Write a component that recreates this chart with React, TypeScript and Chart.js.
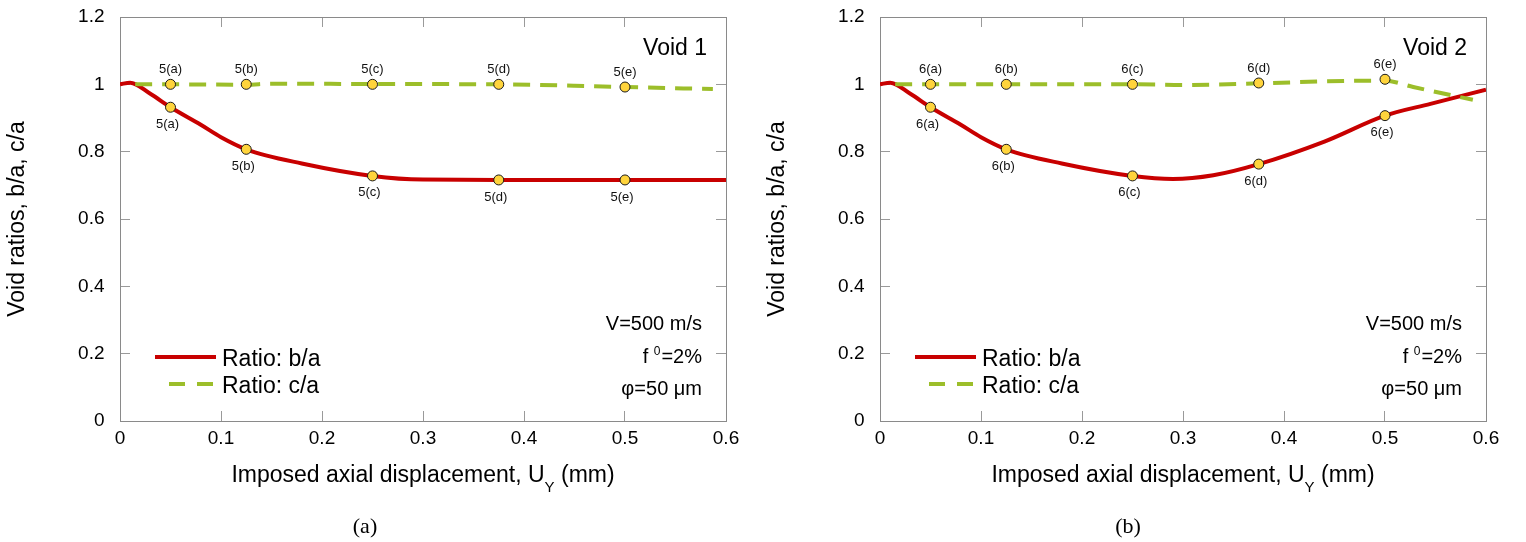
import React, { useEffect, useRef } from 'react';
import { Chart, registerables } from 'chart.js';

Chart.register(...registerables);

const FONT = '"Liberation Sans", Arial, Helvetica, sans-serif';

// ---------- shared labels ----------
const xTickLabels = ['0', '0.1', '0.2', '0.3', '0.4', '0.5', '0.6'];
const yTickLabels = ['0', '0.2', '0.4', '0.6', '0.8', '1', '1.2'];
const legendLabels = ['Ratio: b/a', 'Ratio: c/a'];
const yAxisTitle = 'Void ratios, b/a, c/a';
const xAxisTitleParts = ['Imposed axial displacement, U', 'Y', ' (mm)'];
const paramV = 'V=500 m/s';
const paramF = ['f ', '0', '=2%'];
const paramPhi = 'φ=50 μm';

// ---------- Void 1 ----------
const v1BaX = [0, 0.01, 0.03, 0.05, 0.08, 0.1, 0.125, 0.18, 0.25, 0.3, 0.375, 0.5, 0.6];
const v1BaY = [1.0, 1.005, 0.972, 0.932, 0.88, 0.843, 0.807, 0.765, 0.728, 0.717, 0.716, 0.716, 0.716];
const v1CaX = [0.015, 0.05, 0.125, 0.15, 0.25, 0.375, 0.45, 0.5, 0.587];
const v1CaY = [1.0, 1.0, 0.999, 1.002, 1.001, 1.0, 0.996, 0.992, 0.986];
const v1MarkX = [0.05, 0.125, 0.25, 0.375, 0.5];
const v1MarkBa = [0.932, 0.807, 0.728, 0.716, 0.716];
const v1MarkCa = [1.0, 1.0, 1.0, 1.0, 0.992];
const v1MarkLabels = ['5(a)', '5(b)', '5(c)', '5(d)', '5(e)'];

// ---------- Void 2 ----------
const v2BaX = [0, 0.01, 0.03, 0.05, 0.08, 0.1, 0.125, 0.18, 0.25, 0.29, 0.33, 0.375, 0.44, 0.5, 0.545, 0.6];
const v2BaY = [1.0, 1.005, 0.972, 0.932, 0.88, 0.843, 0.807, 0.765, 0.728, 0.719, 0.73, 0.763, 0.83, 0.907, 0.942, 0.984];
const v2CaX = [0.015, 0.05, 0.125, 0.25, 0.3, 0.375, 0.46, 0.5, 0.528, 0.587];
const v2CaY = [1.0, 1.0, 1.0, 1.0, 0.998, 1.003, 1.01, 1.011, 0.992, 0.954];
const v2MarkX = [0.05, 0.125, 0.25, 0.375, 0.5];
const v2MarkBa = [0.932, 0.807, 0.728, 0.763, 0.907];
const v2MarkCa = [1.0, 1.0, 1.0, 1.004, 1.015];
const v2MarkLabels = ['6(a)', '6(b)', '6(c)', '6(d)', '6(e)'];

const RED = '#C80000';
const GREEN = '#9CBE2A';
const YELLOW = '#FFD43C';

type Spec = {
  title: string;
  caption: string;
  baX: number[]; baY: number[];
  caX: number[]; caY: number[];
  markX: number[]; markBa: number[]; markCa: number[];
  markLabels: string[];
};

const void1: Spec = {
  title: 'Void 1', caption: '(a)',
  baX: v1BaX, baY: v1BaY, caX: v1CaX, caY: v1CaY,
  markX: v1MarkX, markBa: v1MarkBa, markCa: v1MarkCa, markLabels: v1MarkLabels,
};
const void2: Spec = {
  title: 'Void 2', caption: '(b)',
  baX: v2BaX, baY: v2BaY, caX: v2CaX, caY: v2CaY,
  markX: v2MarkX, markBa: v2MarkBa, markCa: v2MarkCa, markLabels: v2MarkLabels,
};

const pts = (xs: number[], ys: number[]) => xs.map((x, i) => ({ x, y: ys[i] }));

const annotPlugin = {
  id: 'annot',
  afterDatasetsDraw(chart: any, _args: any, opts: any) {
    const ctx: CanvasRenderingContext2D = chart.ctx;
    const ca = chart.chartArea;
    const spec: Spec = opts.spec;
    ctx.save();

    // marker labels
    ctx.fillStyle = '#111';
    ctx.font = `13px ${FONT}`;
    ctx.textAlign = 'center';
    ctx.textBaseline = 'middle';
    const mCa = chart.getDatasetMeta(0).data;
    const mBa = chart.getDatasetMeta(1).data;
    spec.markLabels.forEach((lab, i) => {
      if (mCa[i]) ctx.fillText(lab, mCa[i].x, mCa[i].y - 15);
      if (mBa[i]) ctx.fillText(lab, mBa[i].x - 3, mBa[i].y + 17);
    });

    // title
    ctx.fillStyle = '#000';
    ctx.font = `23px ${FONT}`;
    ctx.textAlign = 'right';
    ctx.textBaseline = 'alphabetic';
    ctx.fillText(spec.title, ca.right - 19, ca.top + 38);

    // legend
    const lx = ca.left;
    ctx.lineWidth = 4;
    ctx.lineCap = 'butt';
    ctx.strokeStyle = RED;
    ctx.setLineDash([]);
    ctx.beginPath();
    ctx.moveTo(lx + 35, ca.top + 340);
    ctx.lineTo(lx + 96, ca.top + 340);
    ctx.stroke();
    ctx.strokeStyle = GREEN;
    ctx.setLineDash([16, 12]);
    ctx.beginPath();
    ctx.moveTo(lx + 49, ca.top + 367);
    ctx.lineTo(lx + 93, ca.top + 367);
    ctx.stroke();
    ctx.setLineDash([]);
    ctx.fillStyle = '#000';
    ctx.font = `23px ${FONT}`;
    ctx.textAlign = 'left';
    ctx.fillText(legendLabels[0], lx + 102, ca.top + 349);
    ctx.fillText(legendLabels[1], lx + 102, ca.top + 376);

    // parameters
    const px = ca.right - 24;
    ctx.font = `20px ${FONT}`;
    ctx.textAlign = 'right';
    ctx.fillText(paramV, px, ca.top + 313);
    const wEq = ctx.measureText(paramF[2]).width;
    ctx.fillText(paramF[2], px, ca.top + 346);
    ctx.font = `12px ${FONT}`;
    const wSup = ctx.measureText(paramF[1]).width;
    ctx.fillText(paramF[1], px - wEq - 1, ca.top + 338);
    ctx.font = `20px ${FONT}`;
    ctx.fillText(paramF[0], px - wEq - wSup - 1, ca.top + 346);
    ctx.fillText(paramPhi, px, ca.top + 378);

    // x-axis title with subscript
    ctx.textAlign = 'left';
    ctx.font = `23px ${FONT}`;
    const w1 = ctx.measureText(xAxisTitleParts[0]).width;
    const w3 = ctx.measureText(xAxisTitleParts[2]).width;
    ctx.font = `15px ${FONT}`;
    const w2 = ctx.measureText(xAxisTitleParts[1]).width;
    const total = w1 + w2 + w3;
    const cx = (ca.left + ca.right) / 2;
    const sx = cx - total / 2;
    const by = ca.bottom + 61;
    ctx.font = `23px ${FONT}`;
    ctx.fillText(xAxisTitleParts[0], sx, by);
    ctx.font = `15px ${FONT}`;
    ctx.fillText(xAxisTitleParts[1], sx + w1, by + 10);
    ctx.font = `23px ${FONT}`;
    ctx.fillText(xAxisTitleParts[2], sx + w1 + w2, by);

    // caption
    ctx.font = `22px "Liberation Serif", "DejaVu Serif", serif`;
    ctx.textAlign = 'center';
    ctx.fillText(spec.caption, chart.width / 2 - 15, 533);

    ctx.restore();
  },
};

function makeConfig(spec: Spec, width: number): any {
  const gridOpts = { drawOnChartArea: false, drawTicks: true, tickLength: -10, color: '#9a9a9a', lineWidth: 1 };
  const borderOpts = { display: true, color: '#8a8a8a', width: 1 };
  const tickFont = { family: FONT, size: 19 };
  const zeroPad = (s: any) => { s.paddingTop = 0; s.paddingBottom = 0; s.paddingLeft = 0; s.paddingRight = 0; };
  return {
    type: 'scatter',
    data: {
      datasets: [
        {
          label: 'c/a markers', data: pts(spec.markX, spec.markCa), showLine: false,
          pointRadius: 5, pointBackgroundColor: YELLOW, pointBorderColor: '#1a1a1a', pointBorderWidth: 1, order: 0,
        },
        {
          label: 'b/a markers', data: pts(spec.markX, spec.markBa), showLine: false,
          pointRadius: 5, pointBackgroundColor: YELLOW, pointBorderColor: '#1a1a1a', pointBorderWidth: 1, order: 0,
        },
        {
          label: legendLabels[1], data: pts(spec.caX, spec.caY), showLine: true, borderColor: GREEN,
          borderWidth: 4, borderDash: [17, 10], pointRadius: 0, tension: 0.4, cubicInterpolationMode: 'monotone', order: 1,
        },
        {
          label: legendLabels[0], data: pts(spec.baX, spec.baY), showLine: true, borderColor: RED,
          borderWidth: 4, pointRadius: 0, tension: 0.4, cubicInterpolationMode: 'monotone', order: 2,
        },
      ],
    },
    options: {
      responsive: false,
      animation: false,
      layout: { padding: { left: 0, top: 17, right: width - 726, bottom: 0 } },
      plugins: {
        legend: { display: false },
        tooltip: { enabled: false },
        annot: { spec },
      },
      scales: {
        x: {
          type: 'linear', position: 'bottom', min: 0, max: 0.6,
          afterFit: (s: any) => { s.height = 121; zeroPad(s); },
          ticks: { stepSize: 0.1, color: '#000', font: tickFont, padding: 16, maxRotation: 0, autoSkip: false,
            callback: (_v: any, i: number) => xTickLabels[i] },
          grid: gridOpts, border: borderOpts,
        },
        x2: {
          type: 'linear', position: 'top', min: 0, max: 0.6,
          afterFit: (s: any) => { s.height = 0; zeroPad(s); },
          ticks: { stepSize: 0.1, display: false },
          grid: gridOpts, border: borderOpts,
        },
        y: {
          type: 'linear', position: 'left', min: 0, max: 1.2,
          afterFit: (s: any) => { s.width = 120; zeroPad(s); },
          ticks: { stepSize: 0.2, color: '#000', font: tickFont, padding: 25.5,
            callback: (_v: any, i: number) => yTickLabels[i] },
          title: { display: true, text: yAxisTitle, color: '#000', font: { family: FONT, size: 23 }, padding: { top: 4, bottom: 0 } },
          grid: gridOpts, border: borderOpts,
        },
        y2: {
          type: 'linear', position: 'right', min: 0, max: 1.2,
          afterFit: (s: any) => { s.width = 0; zeroPad(s); },
          ticks: { stepSize: 0.2, display: false },
          grid: gridOpts, border: borderOpts,
        },
      },
    },
    plugins: [annotPlugin],
  };
}

function Panel({ spec, width, left }: { spec: Spec; width: number; left: number }) {
  const ref = useRef<HTMLCanvasElement>(null);
  useEffect(() => {
    const chart = new Chart(ref.current as HTMLCanvasElement, makeConfig(spec, width));
    return () => chart.destroy();
  }, [spec, width]);
  return (
    <canvas
      ref={ref}
      width={width}
      height={542}
      style={{ position: 'absolute', left, top: 0, width, height: 542, display: 'block' }}
    />
  );
}

export default function App() {
  return (
    <div style={{ position: 'absolute', left: 0, top: 0, width: 1526, height: 542, background: '#fff', overflow: 'hidden' }}>
      <Panel spec={void1} width={760} left={0} />
      <Panel spec={void2} width={766} left={760} />
    </div>
  );
}
